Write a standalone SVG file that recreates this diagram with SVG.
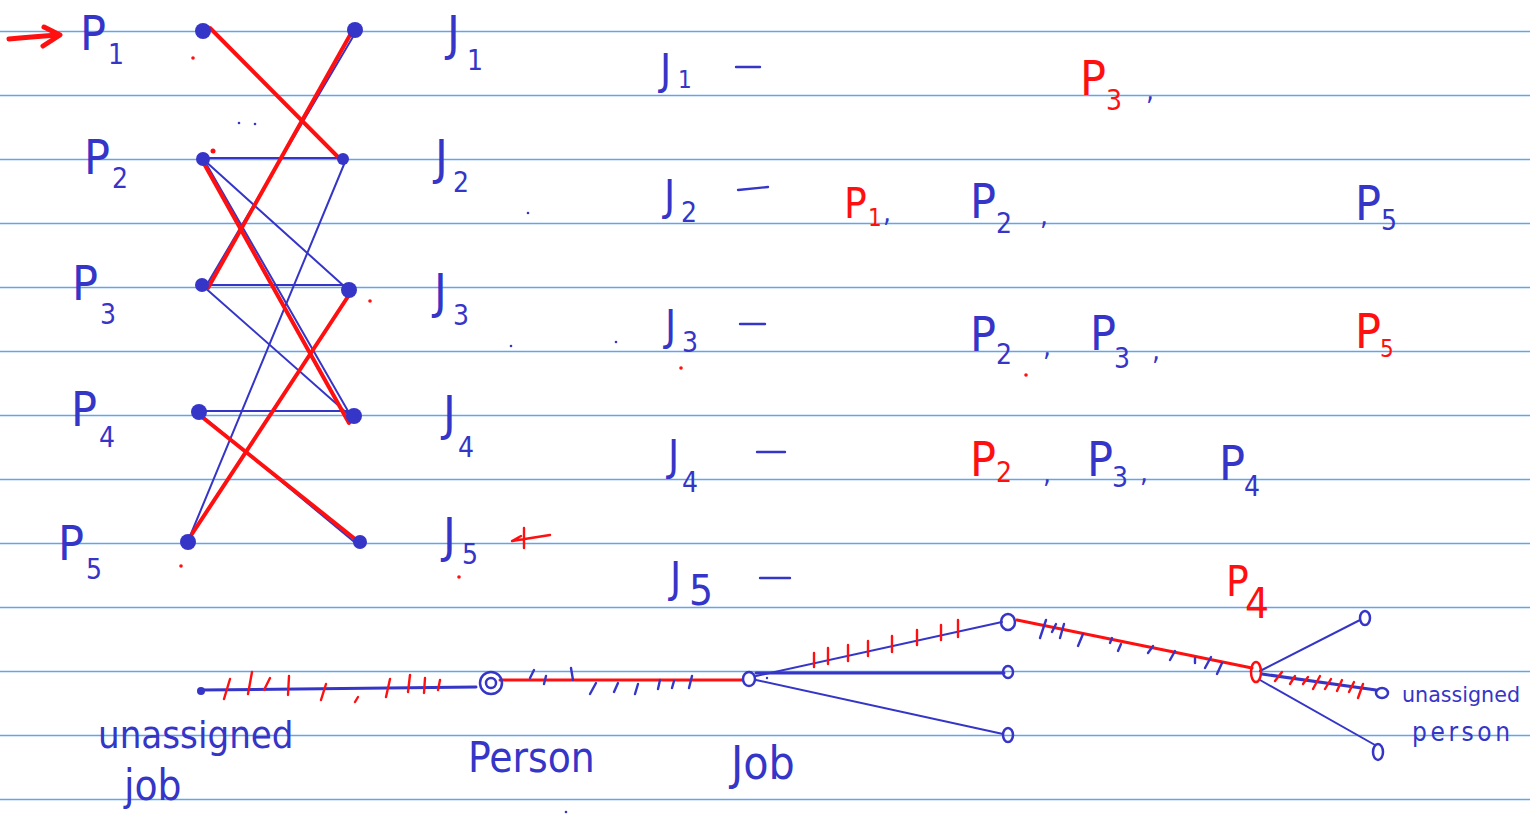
<svg xmlns="http://www.w3.org/2000/svg" width="1530" height="819" viewBox="0 0 1530 819">
<style>
.rule{stroke:#62a4ee;stroke-width:1.6}
.t{font-family:'Liberation Sans Narrow','DejaVu Sans Condensed','Liberation Sans',sans-serif;fill:#3535c8}
.r{fill:#ff1010}
.b{font-size:48px}
.m{font-size:42px}
.s{font-size:28px}
.xs{font-size:24px}
.e{stroke:#3535c8;stroke-width:2;fill:none;stroke-linecap:round}
.eb{stroke:#3535c8;stroke-width:3;fill:none;stroke-linecap:round}
.m0{stroke:#ff1010;stroke-width:4;fill:none;stroke-linecap:round}
.rt{stroke:#ff1010;stroke-width:2.4;fill:none;stroke-linecap:round}
.bt{stroke:#3535c8;stroke-width:2.4;fill:none;stroke-linecap:round}
.nd{fill:#3535c8}
.oc{fill:none;stroke:#3535c8;stroke-width:2.5}
.ocr{fill:none;stroke:#ff1010;stroke-width:2.5}
.rd{fill:#ff1010}
</style>
<rect width="1530" height="819" fill="#ffffff"/>
<g id="ruled-lines">
<line class="rule" x1="0" y1="31.5" x2="1530" y2="31.5"/>
<line class="rule" x1="0" y1="95.5" x2="1530" y2="95.5"/>
<line class="rule" x1="0" y1="159.5" x2="1530" y2="159.5"/>
<line class="rule" x1="0" y1="223.5" x2="1530" y2="223.5"/>
<line class="rule" x1="0" y1="287.5" x2="1530" y2="287.5"/>
<line class="rule" x1="0" y1="351.5" x2="1530" y2="351.5"/>
<line class="rule" x1="0" y1="415.5" x2="1530" y2="415.5"/>
<line class="rule" x1="0" y1="479.5" x2="1530" y2="479.5"/>
<line class="rule" x1="0" y1="543.5" x2="1530" y2="543.5"/>
<line class="rule" x1="0" y1="607.5" x2="1530" y2="607.5"/>
<line class="rule" x1="0" y1="671.5" x2="1530" y2="671.5"/>
<line class="rule" x1="0" y1="735.5" x2="1530" y2="735.5"/>
<line class="rule" x1="0" y1="799.5" x2="1530" y2="799.5"/>
</g>
<g id="connectors">
<line class="e" x1="203" y1="158" x2="343" y2="158"/>
<line class="e" x1="203" y1="285" x2="349" y2="285"/>
<line class="e" x1="199" y1="411" x2="352" y2="411"/>
<line class="e" x1="357" y1="30" x2="206" y2="286"/>
<line class="e" x1="204" y1="160" x2="352" y2="418"/>
<line class="e" x1="204" y1="160" x2="345" y2="287"/>
<line class="e" x1="203" y1="286" x2="348" y2="414"/>
<line class="e" x1="345" y1="162" x2="188" y2="541"/>
<line class="e" x1="200" y1="414" x2="358" y2="545"/>
<line class="m0" x1="210" y1="28" x2="340" y2="159"/>
<line class="m0" x1="354" y1="28" x2="208" y2="288"/>
<line class="m0" x1="202" y1="160" x2="349" y2="423"/>
<line class="m0" x1="349" y1="295" x2="190" y2="537"/>
<line class="m0" x1="202" y1="417" x2="355" y2="539"/>
</g>
<g id="P1"><circle class="nd" cx="203" cy="31" r="8"/><text class="t b" x="80" y="50">P</text><text class="t s" x="108" y="64">1</text></g>
<g id="P2"><circle class="nd" cx="203" cy="159" r="7"/><text class="t b" x="84" y="174">P</text><text class="t s" x="112" y="188">2</text></g>
<g id="P3"><circle class="nd" cx="202" cy="285" r="7"/><text class="t b" x="72" y="300">P</text><text class="t s" x="100" y="324">3</text></g>
<g id="P4"><circle class="nd" cx="199" cy="412" r="8"/><text class="t b" x="71" y="426">P</text><text class="t s" x="99" y="447">4</text></g>
<g id="P5"><circle class="nd" cx="188" cy="542" r="8"/><text class="t b" x="58" y="560">P</text><text class="t s" x="86" y="579">5</text></g>
<g id="J1"><circle class="nd" cx="355" cy="30" r="8"/><text class="t b" x="447" y="50">J</text><text class="t s" x="467" y="70">1</text></g>
<g id="J2"><circle class="nd" cx="343" cy="159" r="6"/><text class="t b" x="435" y="174">J</text><text class="t s" x="453" y="192">2</text></g>
<g id="J3"><circle class="nd" cx="349" cy="290" r="8"/><text class="t b" x="434" y="308">J</text><text class="t s" x="453" y="325">3</text></g>
<g id="J4"><circle class="nd" cx="354" cy="416" r="8"/><text class="t b" x="443" y="430">J</text><text class="t s" x="458" y="457">4</text></g>
<g id="J5"><circle class="nd" cx="360" cy="542" r="7"/><text class="t b" x="443" y="552">J</text><text class="t s" x="462" y="564">5</text></g>
<g id="marks">
<path d="M9 39 Q30 37 58 35" stroke="#ff1010" stroke-width="5" fill="none" stroke-linecap="round"/>
<path d="M44 27 L60 35 L43 46" stroke="#ff1010" stroke-width="5" fill="none" stroke-linejoin="round" stroke-linecap="round"/>
<path d="M512 541 L550 535 M524 528 L524 548 M512 541 L521 536" class="rt"/>
<circle class="rd" cx="193" cy="58" r="1.8"/><circle class="rd" cx="213" cy="151" r="2.5"/><circle class="rd" cx="370" cy="301" r="1.8"/><circle class="rd" cx="181" cy="566" r="1.8"/><circle class="rd" cx="459" cy="577" r="1.8"/><circle class="rd" cx="681" cy="368" r="1.8"/><circle class="rd" cx="1026" cy="375" r="1.8"/>
<circle class="nd" cx="239" cy="123" r="1.3"/><circle class="nd" cx="255" cy="124" r="1.3"/><circle class="nd" cx="528" cy="213" r="1.3"/><circle class="nd" cx="511" cy="346" r="1.3"/><circle class="nd" cx="616" cy="342" r="1.3"/><circle class="nd" cx="566" cy="812" r="1.3"/>
</g>
<g id="list-J1"><text class="t m" x="660" y="84">J</text><text class="t xs" x="678" y="88">1</text><line class="bt" x1="736" y1="67" x2="760" y2="67"/>
<text class="t r b" x="1080" y="95">P</text><text class="t r s" x="1106" y="110">3</text><text class="t s" x="1146" y="100">,</text></g>
<g id="list-J2"><text class="t m" x="664" y="210">J</text><text class="t s" x="681" y="222">2</text><line class="bt" x1="738" y1="190" x2="768" y2="187"/>
<text class="t r m" x="844" y="218">P</text><text class="t r xs" x="868" y="226">1</text><text class="t s" x="883" y="222">,</text>
<text class="t b" x="970" y="218">P</text><text class="t s" x="996" y="233">2</text><text class="t s" x="1040" y="225">,</text>
<text class="t b" x="1355" y="220">P</text><text class="t s" x="1381" y="230">5</text></g>
<g id="list-J3"><text class="t m" x="665" y="340">J</text><text class="t s" x="682" y="352">3</text><line class="bt" x1="740" y1="324" x2="765" y2="324"/>
<text class="t b" x="970" y="351">P</text><text class="t s" x="996" y="364">2</text><text class="t s" x="1043" y="356">,</text>
<text class="t b" x="1090" y="350">P</text><text class="t s" x="1114" y="368">3</text><text class="t s" x="1152" y="360">,</text>
<text class="t r b" x="1355" y="348">P</text><text class="t r xs" x="1380" y="357">5</text></g>
<g id="list-J4"><text class="t m" x="668" y="470">J</text><text class="t s" x="682" y="492">4</text><line class="bt" x1="757" y1="452" x2="785" y2="452"/>
<text class="t r b" x="970" y="476">P</text><text class="t r s" x="996" y="482">2</text><text class="t s" x="1043" y="483">,</text>
<text class="t b" x="1087" y="476">P</text><text class="t s" x="1112" y="487">3</text><text class="t s" x="1140" y="482">,</text>
<text class="t b" x="1219" y="480">P</text><text class="t s" x="1244" y="496">4</text></g>
<g id="list-J5"><text class="t m" x="670" y="592">J</text><text class="t m" x="689" y="605">5</text><line class="bt" x1="760" y1="578" x2="790" y2="578"/>
<text class="t r m" x="1226" y="596">P</text><text class="t r m" x="1245" y="618">4</text></g>
<g id="chain-connectors">
<line class="eb" x1="201" y1="690" x2="476" y2="687"/>
<path class="rt" d="M224 699 L230 679 M248 694 L252 672 M264 690 L270 678 M288 695 L289 676 M321 700 L326 684 M355 702 L358 697 M386 697 L390 679 M408 692 L410 675 M424 693 L425 678 M438 690 L440 680"/>
<line class="m0" style="stroke-width:3" x1="500" y1="680" x2="742" y2="680"/>
<path class="bt" d="M530 678 L534 670 M544 684 L546 676 M571 668 L573 680 M590 694 L596 683 M614 692 L618 683 M635 694 L638 684 M658 689 L660 680 M672 688 L674 681 M689 688 L692 676"/>
<line class="e" x1="756" y1="676" x2="1002" y2="622"/>
<line class="eb" x1="756" y1="673" x2="1004" y2="673"/>
<line class="e" x1="756" y1="680" x2="1003" y2="734"/>
<path class="rt" d="M814 653 L814 667 M828 648 L828 664 M848 645 L848 661 M868 641 L868 656 M892 636 L892 652 M917 630 L917 645 M941 625 L941 640 M958 620 L958 637"/>
<line class="m0" style="stroke-width:3" x1="1017" y1="620" x2="1252" y2="668"/>
<path class="bt" d="M1040 638 L1046 620 M1052 632 L1056 624 M1060 638 L1064 624 M1078 646 L1083 634 M1110 643 L1112 638 M1118 651 L1121 644 M1148 653 L1153 646 M1170 660 L1175 651 M1195 663 L1195 658 M1205 668 L1211 657 M1217 674 L1222 663"/>
<line class="e" x1="1260" y1="671" x2="1360" y2="620"/>
<line class="eb" x1="1262" y1="674" x2="1376" y2="690"/>
<line class="e" x1="1260" y1="680" x2="1375" y2="745"/>
<path class="rt" d="M1275 681 L1282 672 M1290 684 L1295 676 M1303 684 L1308 677 M1313 689 L1320 676 M1325 689 L1331 679 M1337 691 L1342 680 M1349 692 L1354 682 M1358 698 L1363 684"/>
</g>
<g id="unassigned-job"><circle class="nd" cx="201" cy="691" r="4"/><text class="t" style="font-size:38px" x="98" y="748">unassigned</text><text class="t" style="font-size:42px" x="124" y="800">job</text></g>
<g id="person"><circle class="oc" cx="491" cy="683" r="11"/><circle class="oc" cx="491" cy="683" r="5"/><text class="t" style="font-size:42px" x="468" y="772">Person</text></g>
<g id="job"><ellipse class="oc" cx="749" cy="679" rx="6" ry="7"/><circle class="nd" cx="767" cy="678" r="1.2"/><text class="t" style="font-size:46px" x="731" y="779">Job</text></g>
<g id="job-top"><ellipse class="oc" cx="1008" cy="622" rx="7" ry="8"/></g>
<g id="job-mid"><ellipse class="oc" cx="1008" cy="672" rx="5" ry="6"/></g>
<g id="job-bot"><ellipse class="oc" cx="1008" cy="735" rx="5" ry="7"/></g>
<g id="person-mid"><ellipse class="ocr" cx="1256" cy="672" rx="5" ry="10"/></g>
<g id="job-r-top"><ellipse class="oc" cx="1365" cy="618" rx="5" ry="7"/></g>
<g id="job-r-bot"><ellipse class="oc" cx="1378" cy="752" rx="5" ry="8"/></g>
<g id="unassigned-person"><ellipse class="oc" cx="1382" cy="693" rx="6" ry="5"/><text class="t" style="font-size:22px" x="1402" y="702" textLength="118" lengthAdjust="spacingAndGlyphs">unassigned</text><text class="t" style="font-size:26px" x="1412" y="741" textLength="98" lengthAdjust="spacing">person</text></g>
</svg>
